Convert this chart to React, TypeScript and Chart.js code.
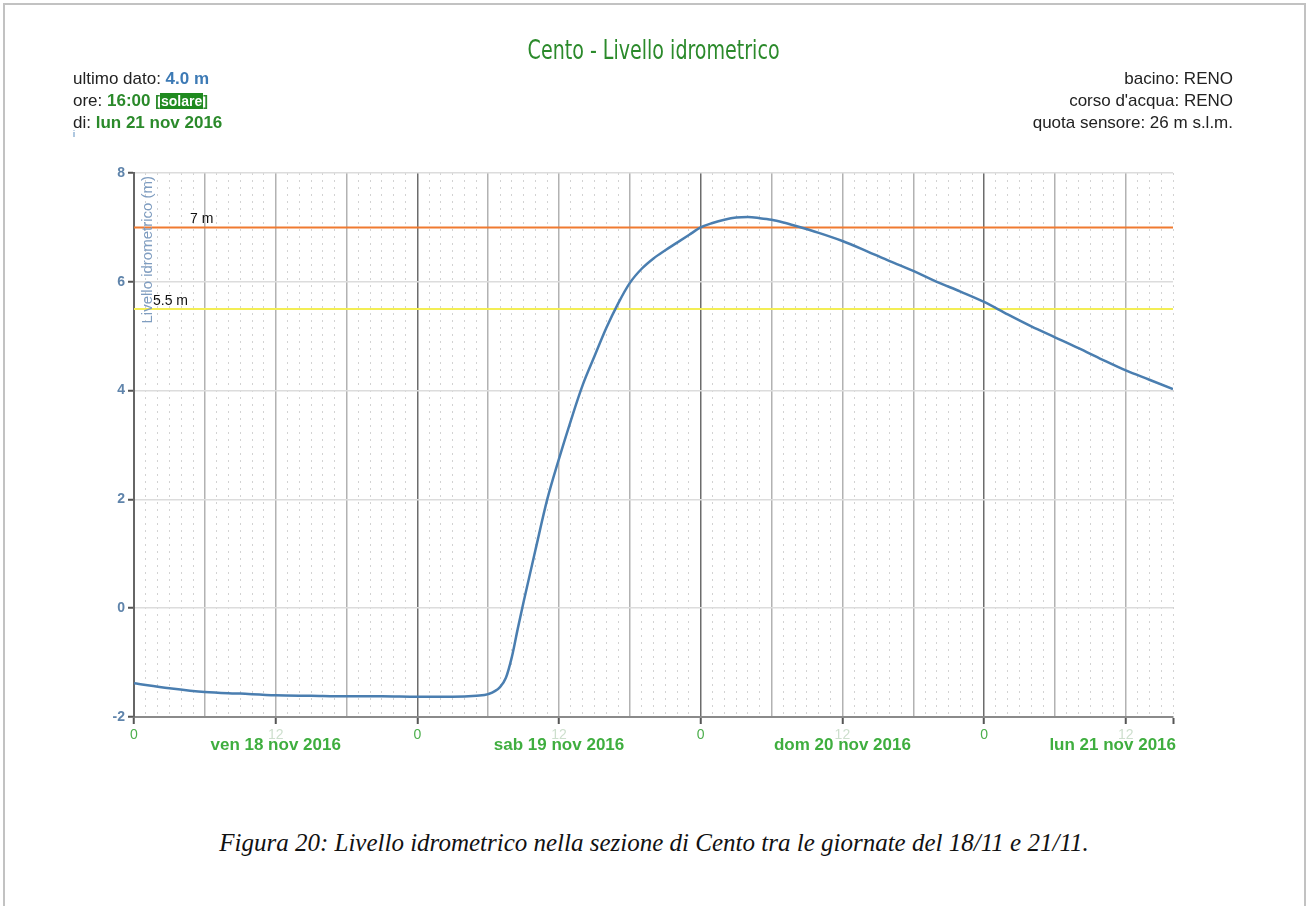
import React, { useEffect, useRef } from "react";
import { Chart, registerables } from "chart.js";

Chart.register(...registerables);

// ---- data (hours since 18 nov 2016 00:00, level in metres) ----
const HOURS = [
  0, 3, 6, 9, 12, 15, 18, 21, 24, 27, 29, 30, 31, 31.5, 32, 32.5, 33, 34, 35, 36, 37, 38,
  39, 40, 41, 42, 43, 44, 45, 46, 47, 48, 49, 50, 51, 52, 53, 54, 55, 56, 58, 60, 62, 64,
  66, 68, 70, 72, 74, 76, 78, 80, 82, 84, 86, 88,
];
const LEVELS = [
  -1.38, -1.47, -1.54, -1.57, -1.6, -1.61, -1.62, -1.62, -1.63, -1.63, -1.61, -1.58, -1.45,
  -1.28, -0.9, -0.38, 0.12, 1.07, 2.0, 2.75, 3.45, 4.1, 4.63, 5.15, 5.6, 5.98, 6.24, 6.43,
  6.58, 6.72, 6.86, 7.0, 7.08, 7.14, 7.18, 7.19, 7.17, 7.14, 7.09, 7.03, 6.9, 6.75, 6.57,
  6.38, 6.2, 6.0, 5.82, 5.63, 5.4, 5.18, 4.98, 4.78, 4.57, 4.37, 4.2, 4.03,
];
const X_MIN = 0;
const X_MAX = 88;
const HOUR_TICK_VALUES = [0, 12, 24, 36, 48, 60, 72, 84];
const HOUR_TICK_LABELS = ["0", "12", "0", "12", "0", "12", "0", "12"];
const DAY_CENTERS = [12, 36, 60, 84];
const DAY_LABELS = ["ven 18 nov 2016", "sab 19 nov 2016", "dom 20 nov 2016", "lun 21 nov 2016"];
const Y_MIN = -2;
const Y_MAX = 8;
const Y_STEP = 2;
const THRESHOLD_VALUES = [7, 5.5];
const THRESHOLD_LABELS = ["7 m", "5.5 m"];
const THRESHOLD_COLORS = ["#f07a30", "#f3ee55"];
const Y_TITLE = "Livello idrometrico (m)";

const SANS = "'Liberation Sans', Arial, sans-serif";

const overlayPlugin = {
  id: "overlay",
  afterDatasetsDraw(chart: any) {
    const { ctx, chartArea, scales } = chart;
    const y = scales.y;
    ctx.save();
    ctx.font = `14px ${SANS}`;
    ctx.fillStyle = "#111";
    ctx.textAlign = "left";
    ctx.textBaseline = "alphabetic";
    const offs = [56, 19];
    THRESHOLD_VALUES.forEach((v, i) => {
      ctx.fillText(THRESHOLD_LABELS[i], chartArea.left + offs[i], y.getPixelForValue(v) - 4);
    });
    ctx.translate(chartArea.left + 14, chartArea.top + 3);
    ctx.rotate(-Math.PI / 2);
    ctx.textAlign = "right";
    ctx.textBaseline = "middle";
    ctx.font = `15px ${SANS}`;
    ctx.fillStyle = "#7f9dc0";
    ctx.fillText(Y_TITLE, 0, 0);
    ctx.restore();
  },
  afterDraw(chart: any) {
    const { ctx, chartArea, scales } = chart;
    const x = scales.x;
    ctx.save();
    ctx.font = `bold 17px ${SANS}`;
    ctx.fillStyle = "#3fae3f";
    ctx.textAlign = "center";
    ctx.textBaseline = "middle";
    DAY_CENTERS.forEach((h, i) => {
      const w = ctx.measureText(DAY_LABELS[i]).width;
      let px = x.getPixelForValue(h);
      px = Math.min(px, chartArea.right + 3 - w / 2);
      ctx.fillText(DAY_LABELS[i], px, chartArea.bottom + 28);
    });
    ctx.restore();
  },
};

function tickVal(c: any): number | null {
  return c && c.tick ? c.tick.value : null;
}

export default function App() {
  const ref = useRef<HTMLCanvasElement | null>(null);

  useEffect(() => {
    if (!ref.current) return;
    const chart = new Chart(ref.current, {
      type: "line",
      data: {
        datasets: [
          {
            data: HOURS.map((h, i) => ({ x: h, y: LEVELS[i] })),
            borderColor: "#4a7eb0",
            borderWidth: 2.5,
            pointRadius: 0,
            cubicInterpolationMode: "monotone",
            fill: false,
          },
          ...THRESHOLD_VALUES.map((v, i) => ({
            data: [
              { x: X_MIN, y: v },
              { x: X_MAX, y: v },
            ],
            borderColor: THRESHOLD_COLORS[i],
            borderWidth: 2,
            pointRadius: 0,
            fill: false,
          })),
        ],
      },
      options: {
        responsive: false,
        animation: false,
        layout: { padding: { left: 84, right: 135, top: 173, bottom: 43 } },
        plugins: {
          legend: { display: false },
          tooltip: { enabled: false },
          title: { display: false },
        },
        scales: {
          x: {
            type: "linear",
            min: X_MIN,
            max: X_MAX,
            afterFit: (s: any) => {
              s.height = 40;
            },
            ticks: {
              stepSize: 1,
              autoSkip: false,
              maxRotation: 0,
              padding: 3,
              font: { size: 14, family: SANS },
              color: (c: any) => {
                const v = tickVal(c);
                const idx = HOUR_TICK_VALUES.indexOf(v as number);
                return idx >= 0 && HOUR_TICK_LABELS[idx] === "0" ? "#4cae4c" : "#cddfcd";
              },
              callback: (v: any) => {
                const idx = HOUR_TICK_VALUES.indexOf(Number(v));
                return idx >= 0 ? HOUR_TICK_LABELS[idx] : "";
              },
            },
            grid: {
              color: (c: any) => {
                const v = tickVal(c);
                if (v === null) return "#d4d4d4";
                if (v % 24 === 0) return "#6c6c6c";
                if (v % 6 === 0) return "#b2b2b2";
                return "#d2d2d2";
              },
              lineWidth: (c: any) => {
                const v = tickVal(c);
                return v !== null && v % 6 === 0 ? 1.5 : 1;
              },
              tickLength: 7,
              tickColor: (c: any) => {
                const v = tickVal(c);
                return v !== null && (v % 12 === 0 || v === X_MAX) ? "#555" : "rgba(0,0,0,0)";
              },
              tickWidth: 2,
            },
            border: {
              display: true,
              color: "#8a8a8a",
              width: 2,
              dash: (c: any) => {
                const v = tickVal(c);
                return v !== null && v % 6 !== 0 ? [2, 5] : [];
              },
            },
          },
          y: {
            type: "linear",
            min: Y_MIN,
            max: Y_MAX,
            afterFit: (s: any) => {
              s.width = 50;
            },
            ticks: {
              stepSize: Y_STEP,
              padding: 3,
              color: "#5f84ab",
              font: { size: 14, weight: "bold", family: SANS },
            },
            grid: {
              color: "#dcdcdc",
              lineWidth: 1.5,
              tickLength: 6,
              tickColor: "#555",
              tickWidth: 2,
            },
            border: { display: true, color: "#666", width: 2 },
          },
        },
      },
      plugins: [overlayPlugin],
    } as any);
    return () => chart.destroy();
  }, []);

  const line: React.CSSProperties = { height: 22, whiteSpace: "nowrap" };
  const green = "#2b8a2b";

  return (
    <div
      style={{
        position: "absolute",
        left: 0,
        top: 0,
        width: 1308,
        height: 906,
        overflow: "hidden",
        background: "#fff",
      }}
    >
      <div
        style={{
          position: "absolute",
          left: 3,
          top: 3,
          width: 1299,
          height: 930,
          borderLeft: "2px solid #c2c2c2",
          borderTop: "2px solid #c2c2c2",
          borderRight: "2px solid #c2c2c2",
        }}
      />
      <canvas
        ref={ref}
        width={1308}
        height={800}
        style={{ position: "absolute", left: 0, top: 0, width: 1308, height: 800 }}
      />
      <div
        style={{
          position: "absolute",
          left: 0,
          top: 35,
          width: 1308,
          textAlign: "center",
        }}
      >
        <span
          style={{
            display: "inline-block",
            transform: "scaleX(0.815)",
            font: "26px 'DejaVu Sans Condensed', 'DejaVu Sans', sans-serif",
            color: green,
            whiteSpace: "nowrap",
          }}
        >
          Cento - Livello idrometrico
        </span>
      </div>
      <div
        style={{
          position: "absolute",
          left: 73,
          top: 68,
          font: `17px ${SANS}`,
          lineHeight: "22px",
          color: "#222",
        }}
      >
        <div style={line}>
          ultimo dato: <b style={{ color: "#3d7ab5" }}>4.0 m</b>
        </div>
        <div style={line}>
          ore: <b style={{ color: green }}>16:00</b>{" "}
          <span style={{ color: green, fontWeight: "bold", fontSize: 14 }}>[</span>
          <span
            style={{
              background: "#1f8a1f",
              color: "#fff",
              fontWeight: "bold",
              fontSize: 14,
              padding: "0 1px",
            }}
          >
            solare
          </span>
          <span style={{ color: green, fontWeight: "bold", fontSize: 14 }}>]</span>
        </div>
        <div style={line}>
          di: <b style={{ color: green }}>lun 21 nov 2016</b>
        </div>
        <div style={{ fontSize: 9, lineHeight: "9px", color: "#3d7ab5", marginTop: -4 }}>i</div>
      </div>
      <div
        style={{
          position: "absolute",
          right: 75,
          top: 68,
          font: `17px ${SANS}`,
          lineHeight: "22px",
          color: "#222",
          textAlign: "right",
        }}
      >
        <div style={line}>bacino: RENO</div>
        <div style={line}>corso d'acqua: RENO</div>
        <div style={line}>quota sensore: 26 m s.l.m.</div>
      </div>
      <div
        style={{
          position: "absolute",
          left: 0,
          top: 829,
          width: 1308,
          textAlign: "center",
          font: "italic 25px 'Liberation Serif', 'Times New Roman', serif",
          color: "#111",
          whiteSpace: "nowrap",
        }}
      >
        Figura 20: Livello idrometrico nella sezione di Cento tra le giornate del 18/11 e 21/11.
      </div>
    </div>
  );
}
